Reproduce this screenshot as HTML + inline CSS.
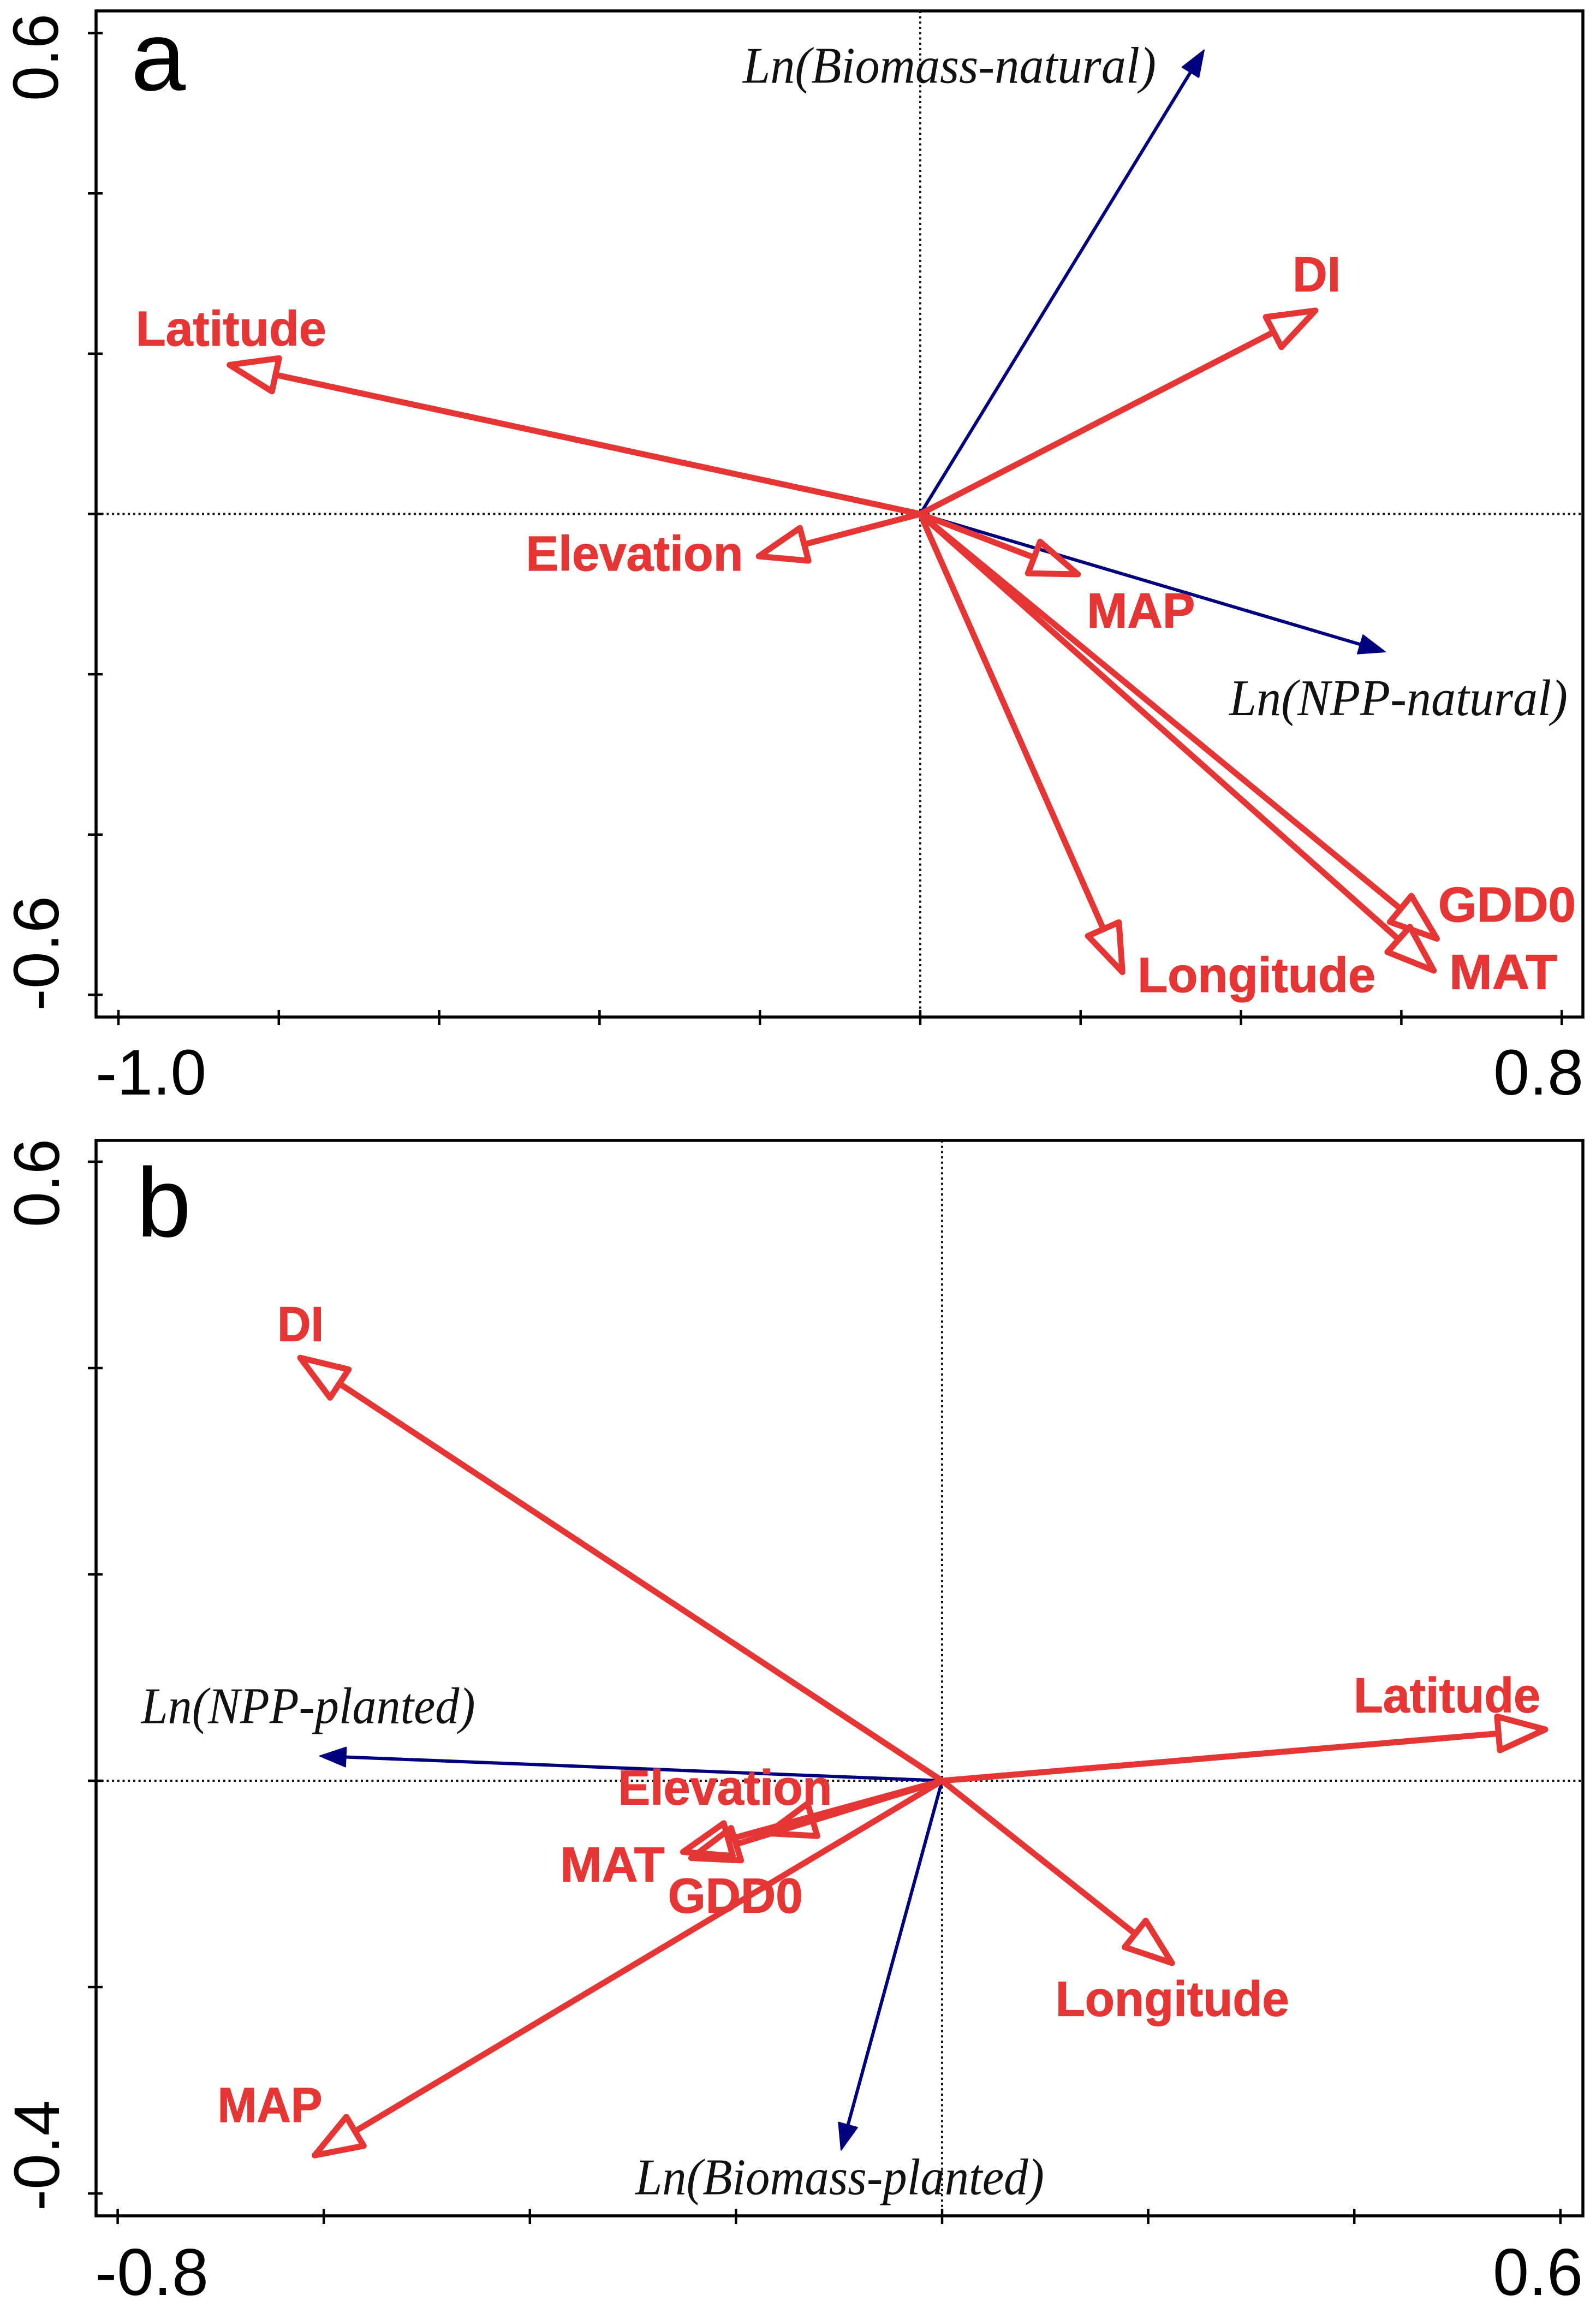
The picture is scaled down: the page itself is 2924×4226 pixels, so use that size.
<!DOCTYPE html>
<html lang="en">
<head>
<meta charset="utf-8">
<title>RDA ordination biplots</title>
<style>
html,body{margin:0;padding:0;background:#fff;width:2924px;height:4226px;overflow:hidden}
svg{display:block}
.env{font-family:"Liberation Sans",Arial,sans-serif;font-weight:bold;font-size:90px;fill:#e53535;stroke:#e53535;stroke-width:1.2px}
.resp{font-family:"Liberation Serif","Times New Roman",serif;font-style:italic;font-size:94px;fill:#111}
.tick{font-family:"Liberation Sans",Arial,sans-serif;font-size:118px;fill:#000}
.tag{font-family:"Liberation Sans",Arial,sans-serif;font-size:180px;fill:#000}
</style>
</head>
<body>
<svg id="chart" xmlns="http://www.w3.org/2000/svg" width="2924" height="4226" viewBox="0 0 2924 4226">
  <rect x="0" y="0" width="2924" height="4226" fill="#fff"/>
  <g id="panel-a"></g>
  <g id="panel-b"></g>
</svg>
<script>
// Panel a data
const envNamesA = ["Latitude", "DI", "Elevation", "MAP", "Longitude", "GDD0", "MAT"];
const envXA = [-0.866, 0.497, -0.206, 0.201, 0.254, 0.648, 0.644];
const envYA = [0.187, 0.256, -0.054, -0.077, -0.576, -0.533, -0.573];
const respNamesA = ["Ln(Biomass-natural)", "Ln(NPP-natural)"];
const respXA = [0.354, 0.580];
const respYA = [0.579, -0.172];
const xTicksA = [-1.0, -0.8, -0.6, -0.4, -0.2, 0, 0.2, 0.4, 0.6, 0.8];
const yTicksA = [0.6, 0.4, 0.2, 0, -0.2, -0.4, -0.6];
const xTickLabelsA = ["-1.0", "0.8"];
const yTickLabelsA = ["0.6", "-0.6"];

// Panel b data
const envNamesB = ["Latitude", "DI", "Elevation", "MAT", "GDD0", "Longitude", "MAP"];
const envXB = [0.589, -0.626, -0.173, -0.255, -0.247, 0.226, -0.612];
const envYB = [0.050, 0.412, -0.052, -0.070, -0.076, -0.179, -0.365];
const respNamesB = ["Ln(NPP-planted)", "Ln(Biomass-planted)"];
const respXB = [-0.604, -0.098];
const respYB = [0.024, -0.358];
const xTicksB = [-0.8, -0.6, -0.4, -0.2, 0, 0.2, 0.4, 0.6];
const yTicksB = [0.6, 0.4, 0.2, 0, -0.2, -0.4];
const xTickLabelsB = ["-0.8", "0.6"];
const yTickLabelsB = ["0.6", "-0.4"];

// Layout (separate from the data): label offsets from arrow tips, [dx, dy, width]
const labelOffsets = {
  a: {"Latitude":[-165,-34,349],"DI":[-48,-32,88],"Elevation":[-420,24,398],"MAP":[10,95,198],"Longitude":[25,30,436],"GDD0":[-3,-36,252],"MAT":[23,29,198],"Ln(Biomass-natural)":[-845,60,757],"Ln(NPP-natural)":[-286,116,620]},
  b: {"Latitude":[-358,-31,342],"DI":[-36,-27,85],"Elevation":[-267,-55,392],"MAT":[-218,52,191],"GDD0":[-36,98,247],"Longitude":[-219,92,428],"MAP":[-172,-65,192],"Ln(NPP-planted)":[-327,-60,612],"Ln(Biomass-planted)":[-377,81,749]}
};
const layoutA = {left:176, right:2900, top:20, bottom:1863, cx:1686, cy:941.5, kx:1469, ky:1468,
  tag:{text:"a", x:240, y:165},
  xLab:[{x:175,y:2005,w:203,fs:118},{x:2736,y:2005,w:165,fs:118}],
  yLab:[{x:106,y:185,w:160},{x:107,y:1852,w:211}]};
const layoutB = {left:176, right:2900, top:2089, bottom:4059, cx:1726, cy:3262, kx:1888, ky:1890,
  tag:{text:"b", x:250, y:2265},
  xLab:[{x:174,y:4204,w:208,fs:122},{x:2735,y:4204,w:165,fs:122}],
  yLab:[{x:108,y:2248,w:162},{x:108,y:4050,w:203}]};

const NS = "http://www.w3.org/2000/svg";
const RED = "#e53535", BLUE = "#00007f";

function mk(parent, tag, attrs, txt){
  const el = document.createElementNS(NS, tag);
  for (const k in attrs) el.setAttribute(k, attrs[k]);
  if (txt !== undefined) el.textContent = txt;
  parent.appendChild(el);
  return el;
}
function slug(s){ return s.toLowerCase().replace(/[^a-z0-9]+/g, "-").replace(/^-|-$/g, ""); }

function drawPanel(root, L, offs, envNames, envX, envY, respNames, respX, respY, xTicks, yTicks, xLabels, yLabels){
  const sx = v => L.cx + v * L.kx;
  const sy = v => L.cy - v * L.ky;

  // zero reference lines
  const h0 = mk(root, "line", {x1:L.left, x2:L.right, y1:sy(0), y2:sy(0), stroke:"#111", "stroke-width":4, "stroke-dasharray":"4 5.7"});
  
  
  const v0 = mk(root, "line", {x1:sx(0), x2:sx(0), y1:L.top, y2:L.bottom, stroke:"#111", "stroke-width":4, "stroke-dasharray":"4 5.7"});
  
  

  // frame
  const frame = mk(root, "rect", {x:L.left, y:L.top, width:L.right-L.left, height:L.bottom-L.top, fill:"none", stroke:"#000", "stroke-width":5.5});
  
  

  // ticks
  xTicks.forEach(function(v){
    const t = mk(root, "line", {x1:sx(v), x2:sx(v), y1:L.bottom-13, y2:L.bottom+15, stroke:"#000", "stroke-width":4.5});
    
    
  });
  yTicks.forEach(function(v){
    const t = mk(root, "line", {x1:L.left-15, x2:L.left+12, y1:sy(v), y2:sy(v), stroke:"#000", "stroke-width":4.5});
    
    
  });

  // tick labels
  xLabels.forEach(function(s, i){
    const p = L.xLab[i];
    const t = mk(root, "text", {"class":"tick", x:p.x, y:p.y, textLength:p.w, lengthAdjust:"spacingAndGlyphs", style:"font-size:"+p.fs+"px"}, s);
    
    
  });
  yLabels.forEach(function(s, i){
    const p = L.yLab[i];
    const t = mk(root, "text", {"class":"tick", x:0, y:0, textLength:p.w, lengthAdjust:"spacingAndGlyphs", transform:"translate("+p.x+" "+p.y+") rotate(-90)"}, s);
    
    
  });

  // panel tag
  const tag = mk(root, "text", {"class":"tag", x:L.tag.x, y:L.tag.y}, L.tag.text);
  
  

  // response arrows (blue, solid head)
  respNames.forEach(function(name, i){
    const tx = sx(respX[i]), ty = sy(respY[i]);
    const dx = tx - L.cx, dy = ty - L.cy, len = Math.hypot(dx, dy), ux = dx/len, uy = dy/len;
    const bx = tx - 48*ux, by = ty - 48*uy;
    const g = mk(root, "g", {});
    
    
    mk(g, "line", {x1:L.cx, y1:L.cy, x2:bx, y2:by, stroke:BLUE, "stroke-width":6});
    mk(g, "polygon", {points:[tx+","+ty, (bx-uy*18)+","+(by+ux*18), (bx+uy*18)+","+(by-ux*18)].join(" "), fill:BLUE, stroke:BLUE, "stroke-width":2, "stroke-linejoin":"round"});
  });

  // environmental arrows (red, open head)
  envNames.forEach(function(name, i){
    const tx = sx(envX[i]), ty = sy(envY[i]);
    const dx = tx - L.cx, dy = ty - L.cy, len = Math.hypot(dx, dy), ux = dx/len, uy = dy/len;
    const px = tx - 7*ux, py = ty - 7*uy;
    const bx = tx - 93*ux, by = ty - 93*uy;
    const g = mk(root, "g", {});
    
    
    mk(g, "line", {x1:L.cx, y1:L.cy, x2:bx, y2:by, stroke:RED, "stroke-width":11});
    mk(g, "polygon", {points:[px+","+py, (bx-uy*31)+","+(by+ux*31), (bx+uy*31)+","+(by-ux*31)].join(" "), fill:"none", stroke:RED, "stroke-width":11, "stroke-linejoin":"round"});
  });

  // labels, placed relative to arrow tips
  envNames.forEach(function(name, i){
    const o = offs[name];
    const t = mk(root, "text", {"class":"env", x:sx(envX[i])+o[0], y:sy(envY[i])+o[1], textLength:o[2], lengthAdjust:"spacingAndGlyphs"}, name);
    
    
  });
  respNames.forEach(function(name, i){
    const o = offs[name];
    const t = mk(root, "text", {"class":"resp", x:sx(respX[i])+o[0], y:sy(respY[i])+o[1], textLength:o[2], lengthAdjust:"spacingAndGlyphs"}, name);
    
    
  });
}

drawPanel(document.getElementById("panel-a"), layoutA, labelOffsets.a, envNamesA, envXA, envYA, respNamesA, respXA, respYA, xTicksA, yTicksA, xTickLabelsA, yTickLabelsA);
drawPanel(document.getElementById("panel-b"), layoutB, labelOffsets.b, envNamesB, envXB, envYB, respNamesB, respXB, respYB, xTicksB, yTicksB, xTickLabelsB, yTickLabelsB);
</script>
</body>
</html>
